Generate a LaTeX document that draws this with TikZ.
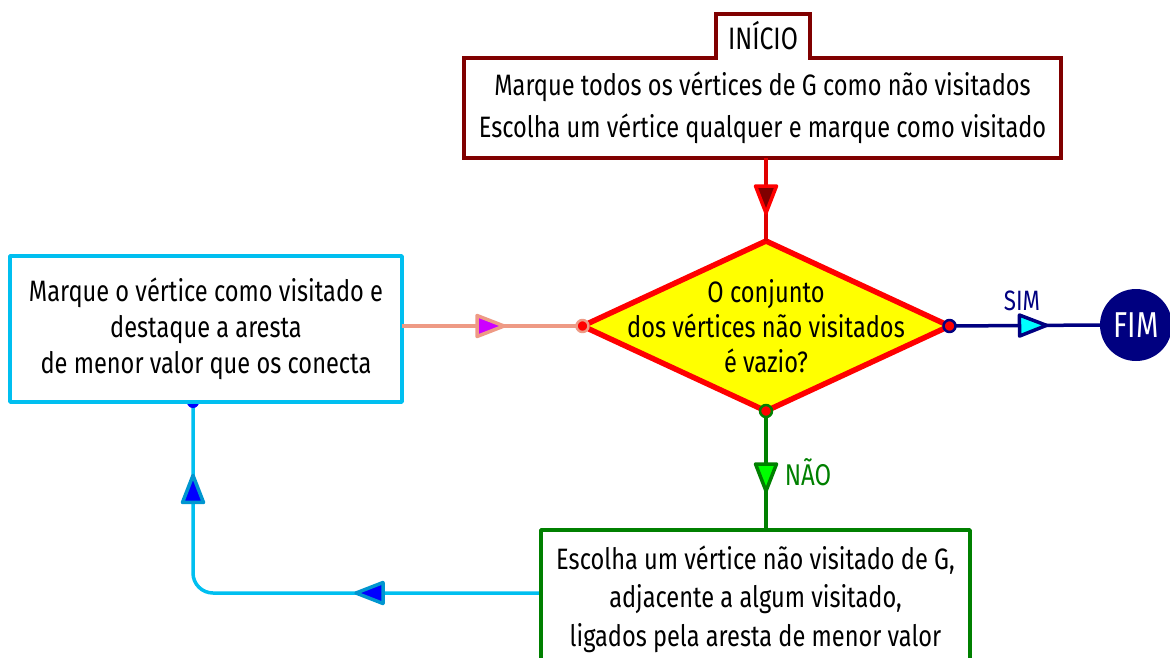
\documentclass[tikz,border=0pt]{standalone}
\usepackage{fontspec}
\setmainfont[FakeStretch=0.8]{Fira Sans}
\usetikzlibrary{shapes.geometric,arrows.meta,decorations.markings,positioning,backgrounds}

\definecolor{startred}{HTML}{800000}
\definecolor{linered}{HTML}{E00000}
\definecolor{condred}{HTML}{FF0000}
\definecolor{condyellow}{HTML}{FFFF00}
\definecolor{markcyan}{HTML}{00BFF0}
\definecolor{loopblue}{HTML}{0000FF}
\definecolor{loopedge}{HTML}{0096D0}
\definecolor{linksalmon}{HTML}{EE9A85}
\definecolor{linkviolet}{HTML}{CC00FF}
\definecolor{endnavy}{HTML}{000080}
\definecolor{simcyan}{HTML}{00FFFF}
\definecolor{naogreen}{HTML}{008000}
\definecolor{naolime}{HTML}{00FF00}

\tikzset{
  box/.style={draw, line width=3.5pt, fill=white, inner sep=0pt, outer sep=0pt, align=center},
  decision/.style={diamond, draw=condred, fill=condyellow, line width=5.5pt,
    minimum width=367pt, minimum height=170pt, inner sep=0pt, outer sep=0pt},
  endpoint/.style={circle, fill=endnavy, text=white, minimum size=72pt, inner sep=0pt,
    font=\fontsize{36}{40}\selectfont},
  link/.style={line width=3.5pt},
  midtip/.style 2 args={postaction={decorate},
    decoration={markings, mark=at position #1 with {#2}}},
  enddot/.style={line width=2.5pt},
}
% arrowhead drawn at a mark, tip at the mark point
\newcommand{\flowtri}[2]{\draw[#1, fill=#2, line width=3.5pt, sharp corners, line join=round]
  (-2,0) -- (-29,10.5) -- (-29,-10.5) -- cycle;}

\begin{document}
\begin{tikzpicture}[x=1pt,y=-1pt,line join=round,font=\fontsize{29.5}{36}\selectfont]
  \useasboundingbox (0,0) rectangle (1170,657);

  % Start block with its tab
  \node[inner sep=0pt, outer sep=0pt, minimum width=597pt, minimum height=100pt,
    align=center, font=\fontsize{29.5}{42}\selectfont] (start) at (762.5,108)
    {Marque todos os vértices de G como não visitados\\Escolha um vértice qualquer e marque como visitado};
  \node[inner sep=0pt, outer sep=0pt, minimum width=94pt, minimum height=44pt,
    font=\fontsize{31}{36}\selectfont] (startTab) at (763,36) {INÍCIO};
  \draw[startred, line width=3.5pt, line join=miter]
    (start.north west) -- (startTab.south west) -- (startTab.north west) -- (startTab.north east)
    -- (startTab.south east) -- (start.north east) -- (start.south east) -- (start.south west) -- cycle;

  % Decision
  \node[decision] (cond) at (766,326) {};
  \node[align=center, font=\fontsize{29.5}{35}\selectfont] (condText) at (766,326)
    {O conjunto\\dos vértices não visitados\\é vazio?};

  % Side blocks
  \node[box, draw=markcyan, minimum width=392pt, minimum height=146pt] (mark) at (206,329)
    {Marque o vértice como visitado e\\destaque a aresta\\de menor valor que os conecta};
  \node[box, draw=naogreen, minimum width=429pt, minimum height=138pt,
    font=\fontsize{29.5}{38.5}\selectfont] (pick) at (755.5,599)
    {Escolha um vértice não visitado de G,\\adjacente a algum visitado,\\ligados pela aresta de menor valor};
  \node[endpoint] (fim) at (1136,325) {FIM};

  % Connectors
  \draw[link, linered, midtip={57pt}{\flowtri{condred}{startred}}]
    (cond.north |- start.south) -- (cond.north);
  \draw[link, linksalmon, midtip={104pt}{\flowtri{linksalmon}{linkviolet}}]
    (mark.east |- cond.west) -- (cond.west);
  \draw[link, endnavy, midtip={99pt}{\flowtri{endnavy}{simcyan}}]
    (cond.east) -- (fim.west);
  \draw[link, naogreen, midtip={82pt}{\flowtri{naogreen}{naolime}}]
    (cond.south) -- (pick.north -| cond.south);
  \begin{scope}[on background layer]
    \draw[link, markcyan, rounded corners=20pt, postaction={decorate},
      decoration={markings,
        mark=at position 187pt with {\flowtri{loopedge}{loopblue}},
        mark=at position 459pt with {\flowtri{loopedge}{loopblue}}}]
      ([yshift=6pt]pick.west) -| ([xshift=-13pt]mark.south);
    \fill[loopblue] ([xshift=-13pt]mark.south) circle[radius=6pt];
  \end{scope}

  % Connector end dots
  \filldraw[enddot, fill=condred, draw=linksalmon] (cond.west) circle[radius=6pt];
  \filldraw[enddot, fill=condred, draw=endnavy] (cond.east) circle[radius=6pt];
  \filldraw[enddot, fill=condred, draw=naogreen] (cond.south) circle[radius=6pt];

  % Labels
  \node[text=endnavy, font=\fontsize{28}{30}\selectfont] (simLabel) at (1022,301) {SIM};
  \node[text=naogreen, font=\fontsize{30}{32}\selectfont] (naoLabel) at (808,472) {NÃO};
\end{tikzpicture}
\end{document}
